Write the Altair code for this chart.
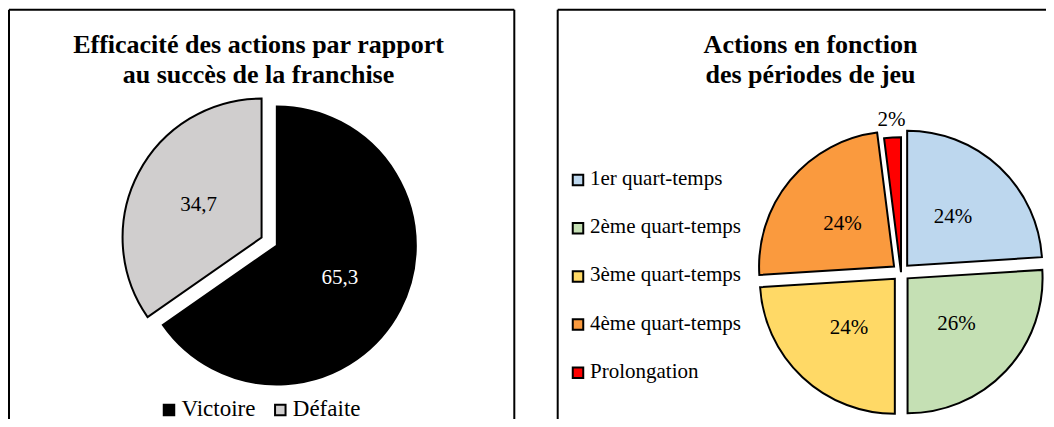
import altair as alt
import pandas as pd

# ---------------- data ----------------
TITRE_GAUCHE = ["Efficacité des actions par rapport", "au succès de la franchise"]
TITRE_DROITE = ["Actions en fonction", "des périodes de jeu"]

RESULTATS = ["Victoire", "Défaite"]
RESULTATS_VALEURS = [65.3, 34.7]

PERIODES = ["1er quart-temps", "2ème quart-temps", "3ème quart-temps",
            "4ème quart-temps", "Prolongation"]
PERIODES_VALEURS = [24, 26, 24, 24, 2]

# ---------------- style ----------------
RESULTATS_COULEURS = ["#000000", "#D0CECE"]
PERIODES_COULEURS = ["#BDD7EE", "#C5E0B4", "#FFD966", "#FA9A3E", "#FF0000"]

W, H = 1038, 411
FONT = "Liberation Serif"


def pie_layers(cats, vals, colors, field, cx, cy, R, explode_expr, label_r_expr,
               label_expr, text_color_expr, leg_x, leg_y, leg_text_dx, leg_text_dy,
               leg_font):
    df = pd.DataFrame({field: cats, "valeur": vals, "ordre": list(range(len(cats)))})
    color = alt.Color(f"{field}:N", sort=cats,
                      scale=alt.Scale(domain=cats, range=colors), legend=None)
    base = (
        alt.Chart(df)
        .transform_joinaggregate(total="sum(valeur)")
        .transform_window(cum="sum(valeur)", sort=[alt.SortField("ordre")], frame=[None, 0])
        .transform_calculate(
            a0="2*PI*(datum.cum - datum.valeur)/datum.total",
            a1="2*PI*datum.cum/datum.total",
            gx=leg_x,
            gy=leg_y,
        )
        .transform_calculate(mid="(datum.a0 + datum.a1)/2", ex=explode_expr,
                             gtx=f"datum.gx + {leg_text_dx}", gty=f"datum.gy + {leg_text_dy}")
        .transform_calculate(
            px=f"{cx} + datum.ex*sin(datum.mid)",
            py=f"{cy} - datum.ex*cos(datum.mid)",
            lr=label_r_expr,
        )
        .transform_calculate(
            lx="datum.px + datum.lr*sin(datum.mid)",
            ly="datum.py - datum.lr*cos(datum.mid)",
            lab=label_expr,
            tc=text_color_expr,
        )
    )
    arcs = base.mark_arc(radius=R, stroke="black", strokeWidth=2).encode(
        x=alt.X("px:Q", scale=None, axis=None),
        y=alt.Y("py:Q", scale=None, axis=None),
        theta=alt.Theta("a0:Q", scale=None),
        theta2="a1:Q",
        color=color,
    )
    text = base.mark_text(font=FONT, fontSize=21, align="center", baseline="middle").encode(
        x=alt.X("lx:Q", scale=None, axis=None),
        y=alt.Y("ly:Q", scale=None, axis=None),
        text="lab:N",
        color=alt.Color("tc:N", scale=None),
    )
    # legend (symbols + labels)
    sym = base.mark_point(shape="square", filled=True, size=110, stroke="black",
                          strokeWidth=2, opacity=1).encode(
        x=alt.X("gx:Q", scale=None, axis=None),
        y=alt.Y("gy:Q", scale=None, axis=None),
        fill=alt.Fill(f"{field}:N", sort=cats,
                      scale=alt.Scale(domain=cats, range=colors), legend=None),
    )
    lab = base.mark_text(font=FONT, fontSize=leg_font, align="left", baseline="middle",
                         color="black").encode(
        x=alt.X("gtx:Q", scale=None, axis=None),
        y=alt.Y("gty:Q", scale=None, axis=None),
        text=f"{field}:N",
    )
    return [arcs, text, sym, lab]


one = alt.Data(values=[{}])


def title_layer(lines, x):
    return alt.Chart(one).mark_text(
        font=FONT, fontSize=26, fontWeight="bold", align="center",
        baseline="alphabetic", lineHeight=29.5, lineBreak="\n", color="black"
    ).encode(x=alt.value(x), y=alt.value(45.3), text=alt.value("\n".join(lines)))


def rule(x, y, x2, y2):
    return alt.Chart(one).mark_rule(color="black", strokeWidth=2).encode(
        x=alt.value(x), y=alt.value(y), x2=alt.value(x2), y2=alt.value(y2))


gauche = pie_layers(
    RESULTATS, RESULTATS_VALEURS, RESULTATS_COULEURS, "resultat",
    cx=261.2, cy=233.5, R=139, explode_expr="8.6", label_r_expr="71",
    label_expr="replace(format(datum.valeur, '.1f'), '.', ',')",
    text_color_expr="datum.resultat == 'Victoire' ? 'white' : 'black'",
    leg_x="161 + datum.ordre*111.3", leg_y="402", leg_text_dx=12.5, leg_text_dy=-1.5,
    leg_font=23,
)
droite = pie_layers(
    PERIODES, PERIODES_VALEURS, PERIODES_COULEURS, "periode",
    cx=893, cy=264.2, R=135,
    explode_expr="datum.valeur/datum.total < 0.05 ? 0 : 9",
    label_r_expr="datum.valeur/datum.total < 0.05 ? 152 : 67",
    label_expr="format(datum.valeur/datum.total, '.0%')",
    text_color_expr="'black'",
    leg_x="570", leg_y="172 + datum.ordre*48.2", leg_text_dx=12, leg_text_dy=-1,
    leg_font=21,
)

bordures = [
    rule(1, 1.7, 506.3, 1.7), rule(1, 1.7, 1, H), rule(506.3, 1.7, 506.3, H),
    rule(549.7, 1.7, W, 1.7), rule(549.7, 1.7, 549.7, H),
]

chart = (
    alt.layer(*bordures, title_layer(TITRE_GAUCHE, 250.5), title_layer(TITRE_DROITE, 802.5),
              *gauche, *droite)
    .resolve_scale(color="independent", fill="independent")
    .properties(width=W, height=H, autosize=alt.AutoSizeParams(type="none"), padding=0,
                background="white")
    .configure_view(stroke=None)
)

chart.save("out.html", embed_options={"renderer": "svg", "actions": False})
